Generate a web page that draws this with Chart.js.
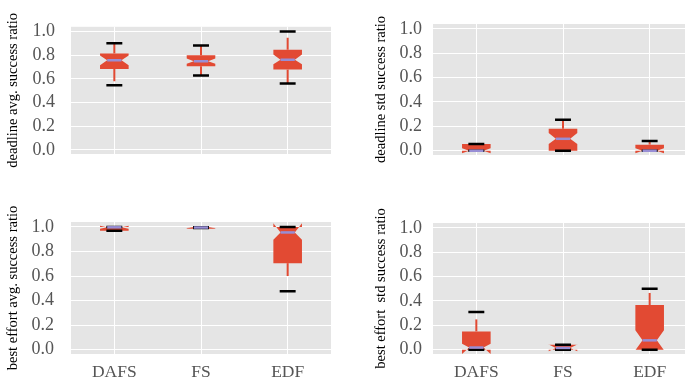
<!DOCTYPE html>
<html>
<head>
<meta charset="utf-8">
<script src="https://cdn.jsdelivr.net/npm/chart.js@4/dist/chart.umd.min.js"></script>
<style>
  html, body { margin: 0; padding: 0; background: #fff; overflow: hidden; }
  #wrap { position: relative; width: 685px; height: 385px; overflow: hidden; }
  canvas { position: absolute; }
</style>
</head>
<body>
<div id="wrap">
  <canvas id="dlAvg" style="left:0;top:0"></canvas>
  <canvas id="dlStd" style="left:340px;top:0"></canvas>
  <canvas id="beAvg" style="left:0;top:190px"></canvas>
  <canvas id="beStd" style="left:340px;top:190px"></canvas>
</div>
<script>
// --- данные ---
const categories = ['DAFS', 'FS', 'EDF'];
const yTicks = [0, 0.2, 0.4, 0.6, 0.8, 1.0];

// per category: [capLow, whiskerLow, q1, notchLow, median, notchHigh, q3, whiskerHigh, capHigh]
const deadlineAvg = [
  [0.547, 0.58, 0.683, 0.716, 0.757, 0.798, 0.814, 0.90, 0.90],
  [0.629, 0.629, 0.707, 0.727, 0.749, 0.773, 0.80, 0.883, 0.883],
  [0.56, 0.56, 0.68, 0.724, 0.762, 0.806, 0.847, 0.948, 1.0]
];
const deadlineStd = [
  [0, 0, 0, -0.02, 0, 0.02, 0.055, 0.055, 0.055],
  [0, 0, 0, 0.055, 0.098, 0.145, 0.18, 0.254, 0.254],
  [0, 0, 0, -0.02, 0, 0.02, 0.05, 0.08, 0.08]
];
const bestEffortAvg = [
  [0.968, 0.968, 0.968, 0.985, 0.997, 1.01, 1.0, 1.0, 1.0],
  [0.992, 0.985, 0.985, 0.99, 0.995, 1.0, 1.0, 1.0, 0.998],
  [0.477, 0.60, 0.705, 0.895, 0.955, 1.03, 1.0, 1.0, 1.0]
];
const bestEffortStd = [
  [0, 0, 0, -0.035, 0.018, 0.05, 0.15, 0.249, 0.309],
  [0, 0, 0, -0.012, 0.015, 0.042, 0.04, 0.04, 0.04],
  [0, 0, 0, -0.005, 0.077, 0.159, 0.367, 0.466, 0.50]
];

const BOX_RED = '#E24A33';
const MEDIAN_PURPLE = '#988ED5';
const SERIF = "'Liberation Serif', 'DejaVu Serif', serif";

function notchPlugin(stats) {
  return {
    id: 'notchBox',
    beforeDraw(chart) {
      const { ctx, chartArea: a } = chart;
      ctx.save();
      ctx.fillStyle = '#E5E5E5';
      ctx.fillRect(a.left, a.top, a.right - a.left, a.bottom - a.top);
      ctx.restore();
    },
    afterDatasetsDraw(chart) {
      const { ctx, chartArea: a, scales: { x, y } } = chart;
      const step = x.getPixelForValue(1) - x.getPixelForValue(0);
      const hw = step * 0.165, nw = hw / 2, cw = step * 0.092;
      ctx.save();
      ctx.beginPath();
      ctx.rect(a.left, a.top, a.right - a.left, a.bottom - a.top);
      ctx.clip();
      stats.forEach((s, i) => {
        const [capLo, whLo, q1, nLo, med, nHi, q3, whHi, capHi] = s.map(v => y.getPixelForValue(v));
        const cx = x.getPixelForValue(i);
        // усы
        ctx.strokeStyle = BOX_RED;
        ctx.lineWidth = 2;
        ctx.beginPath();
        ctx.moveTo(cx, whLo); ctx.lineTo(cx, q1);
        ctx.moveTo(cx, q3); ctx.lineTo(cx, whHi);
        ctx.stroke();
        // коробка с вырезом
        ctx.fillStyle = BOX_RED;
        ctx.beginPath();
        ctx.moveTo(cx - hw, q1);
        ctx.lineTo(cx - hw, nLo);
        ctx.lineTo(cx - nw, med);
        ctx.lineTo(cx - hw, nHi);
        ctx.lineTo(cx - hw, q3);
        ctx.lineTo(cx + hw, q3);
        ctx.lineTo(cx + hw, nHi);
        ctx.lineTo(cx + nw, med);
        ctx.lineTo(cx + hw, nLo);
        ctx.lineTo(cx + hw, q1);
        ctx.closePath();
        ctx.fill();
        // колпачки
        ctx.strokeStyle = '#000';
        ctx.lineWidth = 2.5;
        ctx.beginPath();
        ctx.moveTo(cx - cw, capLo); ctx.lineTo(cx + cw, capLo);
        ctx.moveTo(cx - cw, capHi); ctx.lineTo(cx + cw, capHi);
        ctx.stroke();
        // медиана
        ctx.strokeStyle = MEDIAN_PURPLE;
        ctx.lineWidth = 2.5;
        ctx.beginPath();
        ctx.moveTo(cx - nw, med); ctx.lineTo(cx + nw, med);
        ctx.stroke();
      });
      ctx.restore();
    }
  };
}

function makePanel(id, stats, title, g) {
  const canvas = document.getElementById(id);
  canvas.width = g.w; canvas.height = g.h;
  canvas.style.width = g.w + 'px'; canvas.style.height = g.h + 'px';
  return new Chart(canvas.getContext('2d'), {
    type: 'bar',
    data: {
      labels: categories,
      datasets: [{ data: stats.map(s => [s[2], s[6]]), backgroundColor: 'rgba(0,0,0,0)' }]
    },
    options: {
      responsive: false,
      animation: false,
      devicePixelRatio: 1,
      layout: { padding: { top: g.top, right: g.w - g.right, left: 0, bottom: 0 } },
      plugins: { legend: { display: false }, tooltip: { enabled: false } },
      scales: {
        x: {
          offset: true,
          grid: { offset: false, color: '#FFFFFF', lineWidth: 1, drawTicks: false },
          border: { display: false },
          ticks: { display: g.showX, color: '#555555', padding: 8, font: { family: SERIF, size: 17.5 } },
          afterFit: s => { s.height = g.h - g.bottom; }
        },
        y: {
          min: -0.035, max: 1.04,
          grid: { color: '#FFFFFF', lineWidth: 1, drawTicks: false },
          border: { display: false },
          afterBuildTicks: s => { s.ticks = yTicks.map(v => ({ value: v })); },
          ticks: {
            color: '#555555', padding: g.tickPad,
            font: { family: SERIF, size: 18 },
            callback: v => Number(v).toFixed(1)
          },
          title: {
            display: true, text: title, color: '#000000',
            font: { family: SERIF, size: 14.5 },
            padding: { top: g.titlePad, bottom: 0 }
          },
          afterFit: s => { s.width = g.left; }
        }
      }
    },
    plugins: [notchPlugin(stats)]
  });
}

makePanel('dlAvg', deadlineAvg, 'deadline avg. success ratio',
  { w: 340, h: 190, left: 71, right: 331, top: 23, bottom: 154, tickPad: 16, titlePad: 4, showX: false });
makePanel('dlStd', deadlineStd, 'deadline std success ratio',
  { w: 360, h: 190, left: 93, right: 353, top: 24, bottom: 155, tickPad: 11, titlePad: 32, showX: false });
makePanel('beAvg', bestEffortAvg, 'best effort avg. success ratio',
  { w: 340, h: 195, left: 71, right: 331, top: 32, bottom: 164, tickPad: 17, titlePad: 4, showX: true });
makePanel('beStd', bestEffortStd, 'best effort  std success ratio',
  { w: 360, h: 195, left: 93, right: 353, top: 33, bottom: 164, tickPad: 11, titlePad: 32, showX: true });
</script>
</body>
</html>
